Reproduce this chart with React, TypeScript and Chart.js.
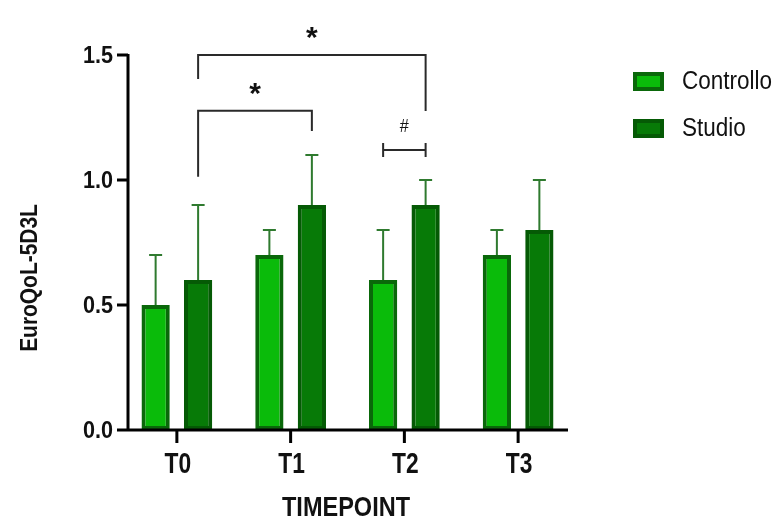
import { useEffect, useRef } from 'react';
import { Chart, registerables } from 'chart.js';
Chart.register(...registerables);

const categories = ['T0', 'T1', 'T2', 'T3'];
const seriesNames = ['Controllo', 'Studio'];
const controllo = [0.5, 0.7, 0.6, 0.7];
const studio = [0.6, 0.9, 0.9, 0.8];
const controlloErrTop = [0.7, 0.8, 0.8, 0.8];
const studioErrTop = [0.9, 1.1, 1.0, 1.0];
const yTickValues = [0, 0.5, 1.0, 1.5];
const yTitle = 'EuroQoL-5D3L';
const xTitle = 'TIMEPOINT';

// significance brackets: [categoryIndex, datasetIndex]
const bracketFrom = [[0, 1], [0, 1], [2, 0]];
const bracketTo = [[2, 1], [1, 1], [2, 1]];
const bracketLevel = [1.5, 1.277, 1.12];
const bracketLeftDrop = [1.404, 1.013, null];
const bracketRightDrop = [1.276, 1.196, null];
const bracketLabels = ['*', '*', '#'];

const fillColors = ['#0abb0a', '#077a07'];
const borderColors = ['#0a680a', '#055a05'];
const errColor = '#2f7a2f';

const SANS = '"Liberation Sans", Arial, sans-serif';

function txt(ctx: any, s: string, x: number, y: number, font: string, align: string, sx: number, rot = 0) {
  ctx.save();
  ctx.translate(x, y);
  if (rot) ctx.rotate(rot);
  ctx.scale(sx, 1);
  ctx.font = font;
  ctx.textAlign = align;
  ctx.textBaseline = 'middle';
  ctx.fillStyle = '#111';
  ctx.fillText(s, 0, 0);
  ctx.restore();
}

const overlay = {
  id: 'overlay',
  afterDatasetsDraw(chart: any) {
    const ctx = chart.ctx;
    const xs = chart.scales.x;
    const ys = chart.scales.y;
    const area = chart.chartArea;
    const axisLeft = area.left + 8;
    const axisRight = area.right - 7;
    const y0 = ys.getPixelForValue(0);
    const barX = (c: number, d: number) => chart.getDatasetMeta(d).data[c].x;

    ctx.save();
    // error bars
    const errs = [controlloErrTop, studioErrTop];
    const vals = [controllo, studio];
    ctx.strokeStyle = errColor;
    ctx.lineWidth = 2;
    for (let d = 0; d < 2; d++) {
      for (let c = 0; c < categories.length; c++) {
        const bx = barX(c, d);
        const top = ys.getPixelForValue(errs[d][c]);
        const base = ys.getPixelForValue(vals[d][c]);
        ctx.beginPath();
        ctx.moveTo(bx, base);
        ctx.lineTo(bx, top);
        ctx.moveTo(bx - 6.5, top);
        ctx.lineTo(bx + 6.5, top);
        ctx.stroke();
      }
    }

    // axes
    ctx.strokeStyle = '#000';
    ctx.lineWidth = 3;
    ctx.beginPath();
    ctx.moveTo(axisLeft, ys.getPixelForValue(1.5) - 1);
    ctx.lineTo(axisLeft, y0 + 1.5);
    ctx.moveTo(axisLeft, y0);
    ctx.lineTo(axisRight, y0);
    for (const v of yTickValues) {
      const py = ys.getPixelForValue(v);
      ctx.moveTo(axisLeft - 11, py);
      ctx.lineTo(axisLeft, py);
    }
    for (let c = 0; c < categories.length; c++) {
      const px = xs.getPixelForValue(c);
      ctx.moveTo(px, y0);
      ctx.lineTo(px, y0 + 13);
    }
    ctx.stroke();

    // tick labels
    for (const v of yTickValues) {
      txt(ctx, v.toFixed(1), axisLeft - 15, ys.getPixelForValue(v) + 1.5, 'bold 24px ' + SANS, 'right', 0.9);
    }
    for (let c = 0; c < categories.length; c++) {
      txt(ctx, xs.getLabelForValue(c), xs.getPixelForValue(c) + 1, y0 + 35, 'bold 30px ' + SANS, 'center', 0.76);
    }
    txt(ctx, xTitle, (axisLeft + axisRight) / 2 - 2, y0 + 78, 'bold 28px ' + SANS, 'center', 0.84);
    txt(ctx, yTitle, 31, 278, 'bold 23px ' + SANS, 'center', 0.91, -Math.PI / 2);

    // brackets
    ctx.strokeStyle = '#2a2a2a';
    ctx.lineWidth = 2;
    for (let i = 0; i < bracketLabels.length; i++) {
      const x1 = barX(bracketFrom[i][0], bracketFrom[i][1]);
      const x2 = barX(bracketTo[i][0], bracketTo[i][1]);
      const py = ys.getPixelForValue(bracketLevel[i]);
      ctx.beginPath();
      const l = bracketLeftDrop[i];
      const r = bracketRightDrop[i];
      if (l !== null && r !== null) {
        ctx.moveTo(x1, ys.getPixelForValue(l));
        ctx.lineTo(x1, py);
        ctx.lineTo(x2, py);
        ctx.lineTo(x2, ys.getPixelForValue(r));
      } else {
        ctx.moveTo(x1, py);
        ctx.lineTo(x2, py);
        ctx.moveTo(x1, py - 7);
        ctx.lineTo(x1, py + 7);
        ctx.moveTo(x2, py - 7);
        ctx.lineTo(x2, py + 7);
      }
      ctx.stroke();
      if (bracketLabels[i] === '*') {
        txt(ctx, '*', (x1 + x2) / 2, py - 16, 'bold 30px ' + SANS, 'center', 1);
      } else {
        txt(ctx, bracketLabels[i], (x1 + x2) / 2, py - 23, '18px ' + SANS, 'center', 0.9);
      }
    }

    // legend
    for (let d = 0; d < seriesNames.length; d++) {
      const top = 72 + 47 * d;
      ctx.fillStyle = fillColors[d];
      ctx.fillRect(633, top, 31, 19);
      ctx.strokeStyle = borderColors[d];
      ctx.lineWidth = 4;
      ctx.strokeRect(635, top + 2, 27, 15);
      txt(ctx, seriesNames[d], 682, top + 10, '25px ' + SANS, 'left', 0.9);
    }
    ctx.restore();
  },
};

export default function App() {
  const ref = useRef<HTMLCanvasElement>(null);
  useEffect(() => {
    const chart = new Chart(ref.current!, {
      type: 'bar',
      data: {
        labels: categories,
        datasets: [
          { label: seriesNames[0], data: controllo, backgroundColor: fillColors[0], borderColor: borderColors[0], borderWidth: 4, borderSkipped: false },
          { label: seriesNames[1], data: studio, backgroundColor: fillColors[1], borderColor: borderColors[1], borderWidth: 4, borderSkipped: false },
        ],
      },
      options: {
        animation: false,
        responsive: true,
        maintainAspectRatio: false,
        layout: { padding: { top: 55, right: 200, left: 0, bottom: 0 } },
        datasets: { bar: { categoryPercentage: 0.747, barPercentage: 0.665 } } as any,
        plugins: { legend: { display: false }, tooltip: { enabled: false } },
        scales: {
          x: {
            grid: { display: false },
            border: { display: false },
            ticks: { display: false },
            afterFit: (s: any) => { s.height = 97; },
          },
          y: {
            min: 0,
            max: 1.5,
            grid: { display: false },
            border: { display: false },
            ticks: { display: false, stepSize: 0.5 },
            afterFit: (s: any) => { s.width = 120; },
          },
        },
      },
      plugins: [overlay],
    });
    return () => chart.destroy();
  }, []);
  return (
    <div style={{ position: 'fixed', left: 0, top: 0, width: 775, height: 527, background: '#fff' }}>
      <canvas ref={ref} />
    </div>
  );
}
